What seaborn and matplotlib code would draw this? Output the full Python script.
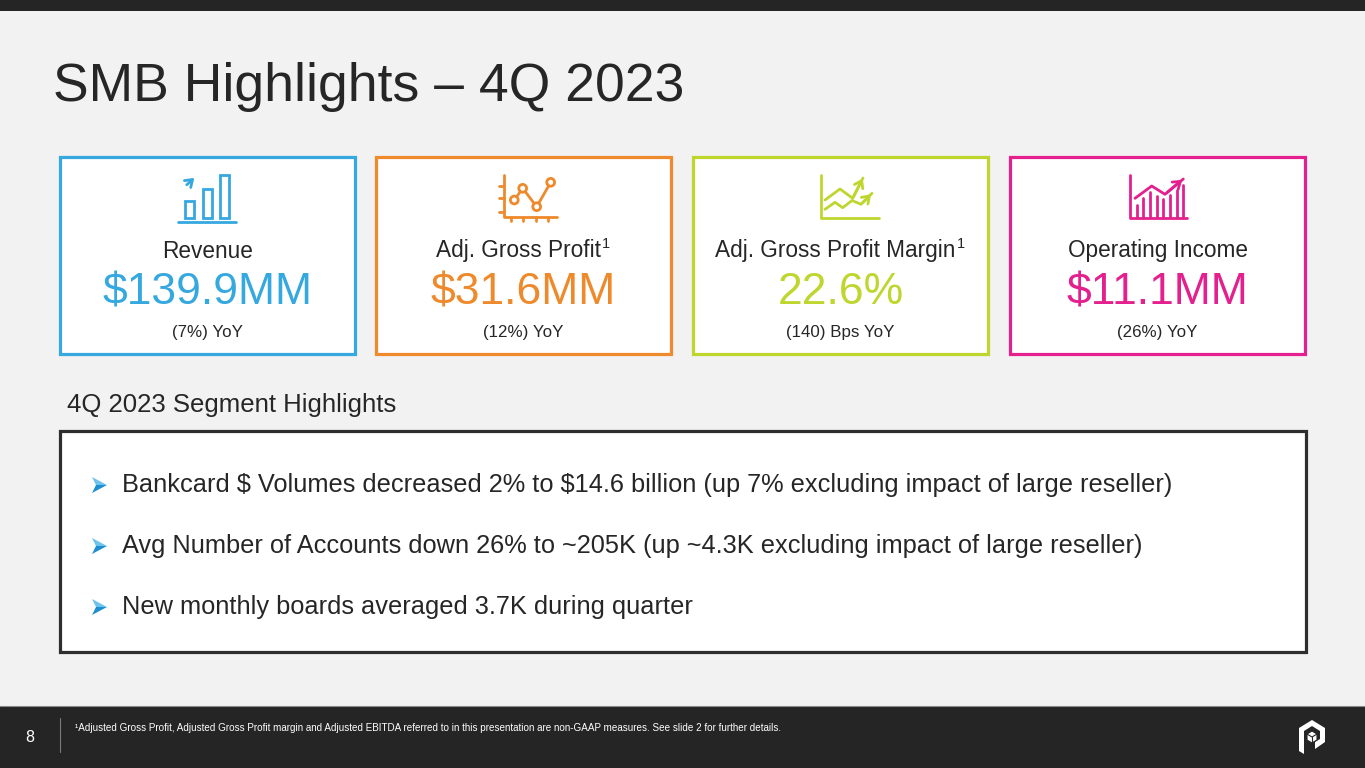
import numpy as np
import pandas as pd
import seaborn as sns
import matplotlib.pyplot as plt
from matplotlib.patches import Rectangle, Polygon, Circle

# ---- slide content ----
title = "SMB Highlights \u2013 4Q 2023"
card_labels = ["Revenue", "Adj. Gross Profit", "Adj. Gross Profit Margin", "Operating Income"]
card_notes = ["", "1", "1", ""]
card_values = ["$139.9MM", "$31.6MM", "22.6%", "$11.1MM"]
card_changes = ["(7%) YoY", "(12%) YoY", "(140) Bps YoY", "(26%) YoY"]
card_colors = ["#35a8e0", "#ef8a2c", "#bfd62f", "#e3208e"]
section_title = "4Q 2023 Segment Highlights"
bullets = [
    "Bankcard $ Volumes decreased 2% to $14.6 billion (up 7% excluding impact of large reseller)",
    "Avg Number of Accounts down 26% to ~205K (up ~4.3K excluding impact of large reseller)",
    "New monthly boards averaged 3.7K during quarter",
]
footnote = ("\u00b9Adjusted Gross Profit, Adjusted Gross Profit margin and Adjusted EBITDA referred to in this "
            "presentation are non-GAAP measures. See slide 2 for further details.")
page_no = "8"

# icon shapes, local pixel grid 90 x 65 (y down)
rev_bar_x = [26.7, 44.3, 61.3]
rev_bar_top = [36, 24, 10]
gp_pts_x = [29.3, 37.7, 51.7, 65.7]
gp_pts_y = [35, 23.3, 41.7, 17.3]
gpm_line_a_x = [25, 40, 52.7, 63]
gpm_line_a_y = [35, 24, 33.3, 13]
gpm_line_b_x = [25, 35, 42.7, 52, 61, 72]
gpm_line_b_y = [44.3, 37.3, 42.7, 35.5, 39.3, 28.3]
oi_bar_x = [21.7, 28.3, 35, 41.7, 48.3, 55, 61.7, 68.3]
oi_bar_top = [40, 33, 27, 31, 34, 30, 25, 20]
oi_line_x = [20, 36.7, 50, 68.3]
oi_line_y = [33.3, 21, 29.3, 14]

sns.set_theme(style="white")
plt.rcParams['font.family'] = ['Liberation Sans', 'DejaVu Sans']
plt.rcParams['text.parse_math'] = False

W, H = 1365, 768
fig = plt.figure(figsize=(W / 100, H / 100), dpi=100)
fig.patch.set_facecolor("#f2f2f2")
ax = fig.add_axes([0, 0, 1, 1])
ax.set_xlim(0, W)
ax.set_ylim(H, 0)
ax.axis("off")
renderer = fig.canvas.get_renderer()

dark = "#252525"
txt = "#262626"

# top strip and footer
ax.add_patch(Rectangle((0, 0), W, 11, color=dark, lw=0))
ax.add_patch(Rectangle((0, 706), W, 62, color=dark, lw=0))
ax.plot([0, W], [706, 706], color="#8a8a8a", lw=0.8)
ax.plot([60, 60], [718, 752], color="#7a7a7a", lw=0.8)
ax.text(30, 738, page_no, color="white", fontsize=11.5, ha="center", va="center")
ax.text(75, 728, footnote, color="white", fontsize=7.1, ha="left", va="center")

# logo (white cube in a hexagon frame)
lx, ly = 1312, 737
ax.add_patch(Polygon([[lx - 13, ly - 9], [lx, ly - 17], [lx + 13, ly - 9], [lx + 13, ly + 5], [lx + 3, ly + 12],
                      [lx + 3, ly + 5], [lx + 8, ly + 2], [lx + 8, ly - 6], [lx, ly - 11], [lx - 8, ly - 6],
                      [lx - 8, ly + 17], [lx - 13, ly + 14]], closed=True, color="white", lw=0))
ax.add_patch(Polygon([[lx - 5, ly - 3], [lx, ly - 6], [lx + 5, ly - 3], [lx + 5, ly + 3], [lx, ly + 6],
                      [lx - 5, ly + 3]], closed=True, fc="white", ec=dark, lw=0.8))
ax.plot([lx - 5, lx, lx + 5], [ly - 3, ly, ly - 3], color=dark, lw=0.8)
ax.plot([lx, lx], [ly, ly + 6], color=dark, lw=0.8)

# title
ax.text(53, 87, title, color=txt, fontsize=38.5, ha="left", va="center")

# KPI cards
card_left = [60, 376, 693, 1010]
card_w, card_top, card_h = 295, 157, 197
for i in range(4):
    x0 = card_left[i]
    cx = x0 + card_w / 2
    ax.add_patch(Rectangle((x0, card_top), card_w, card_h, fc="white", ec=card_colors[i], lw=2.3))
    shift = 5 if card_notes[i] else 0
    t = ax.text(cx - shift, 251, card_labels[i], color=txt, fontsize=16.3, ha="center", va="center")
    if card_notes[i]:
        bb = t.get_window_extent(renderer=renderer)
        ax.text(bb.x1 + 1, 244, card_notes[i], color=txt, fontsize=10.5, ha="left", va="center")
    ax.text(cx, 293, card_values[i], color=card_colors[i], fontsize=32, ha="center", va="center")
    ax.text(cx, 333, card_changes[i], color=txt, fontsize=12.2, ha="center", va="center")


def icon_axes(left, top):
    iax = fig.add_axes([left / W, 1 - (top + 65) / H, 90 / W, 65 / H])
    iax.set_xlim(0, 90)
    iax.set_ylim(65, 0)
    iax.axis("off")
    iax.patch.set_alpha(0)
    return iax


lw_i = 2.0
arrow = dict(arrowstyle="->,head_length=0.4,head_width=0.28", lw=lw_i)

# revenue icon
c = card_colors[0]
iax = icon_axes(163, 165)
iax.plot([15, 72.7], [56.7, 56.7], color=c, lw=lw_i)
for bx, bt in zip(rev_bar_x, rev_bar_top):
    iax.add_patch(Rectangle((bx - 4.5, bt), 9, 53.3 - bt, fill=False, ec=c, lw=lw_i))
iax.annotate("", xy=(33.3, 11), xytext=(21.7, 21.7), arrowprops=dict(color=c, **arrow))

# gross profit icon
c = card_colors[1]
iax = icon_axes(485, 165)
iax.plot([19, 19, 71.7], [10, 51.7, 51.7], color=c, lw=lw_i)
for ty in [20.7, 33.3, 46.7]:
    iax.plot([14, 19], [ty, ty], color=c, lw=lw_i)
for tx in [26, 38.3, 50.7, 63.3]:
    iax.plot([tx, tx], [51.7, 56], color=c, lw=lw_i)
sns.lineplot(x=gp_pts_x, y=gp_pts_y, ax=iax, color=c, lw=lw_i, sort=False, legend=False)
for px, py in zip(gp_pts_x, gp_pts_y):
    iax.add_patch(Circle((px, py), 3.9, fc="white", ec=c, lw=lw_i, zorder=3))
iax.set_xlim(0, 90)
iax.set_ylim(65, 0)
iax.axis("off")

# gross profit margin icon
c = card_colors[2]
iax = icon_axes(800, 165)
iax.plot([20.7, 20.7, 79], [10, 53.3, 53.3], color=c, lw=lw_i)
iax.plot(gpm_line_a_x, gpm_line_a_y, color=c, lw=lw_i)
iax.plot(gpm_line_b_x, gpm_line_b_y, color=c, lw=lw_i)
iax.annotate("", xy=(gpm_line_a_x[-1] + 1, gpm_line_a_y[-1] - 2), xytext=(gpm_line_a_x[-2], gpm_line_a_y[-2]),
             arrowprops=dict(color=c, **arrow))
iax.annotate("", xy=(gpm_line_b_x[-1] + 1, gpm_line_b_y[-1] - 1), xytext=(gpm_line_b_x[-2], gpm_line_b_y[-2]),
             arrowprops=dict(color=c, **arrow))

# operating income icon
c = card_colors[3]
iax = icon_axes(1115, 165)
iax.plot([15, 15, 71.7], [10, 53.3, 53.3], color=c, lw=lw_i)
for bx, bt in zip(oi_bar_x, oi_bar_top):
    iax.plot([bx, bx], [bt, 51.5], color=c, lw=lw_i)
iax.plot(oi_line_x, oi_line_y, color=c, lw=lw_i)
iax.annotate("", xy=(oi_line_x[-1] + 1, oi_line_y[-1] - 1), xytext=(oi_line_x[-2], oi_line_y[-2]),
             arrowprops=dict(color=c, **arrow))

# segment highlights
ax.text(67, 405, section_title, color=txt, fontsize=18.5, ha="left", va="center")
ax.add_patch(Rectangle((60, 431), 1246, 221, fc="white", ec="#2e2e2e", lw=2.3))
for k, b in enumerate(bullets):
    yy = 485 + k * 61
    # 3-D arrowhead bullet
    ax.add_patch(Polygon([[92, yy - 8], [107, yy], [96, yy]], closed=True, color="#6cc3ec", lw=0))
    ax.add_patch(Polygon([[96, yy], [107, yy], [92, yy + 8]], closed=True, color="#1d8fd1", lw=0))
    ax.text(122, yy, b, color=txt, fontsize=18.3, ha="left", va="center")

fig.savefig("out.png", dpi=100, facecolor=fig.get_facecolor())
